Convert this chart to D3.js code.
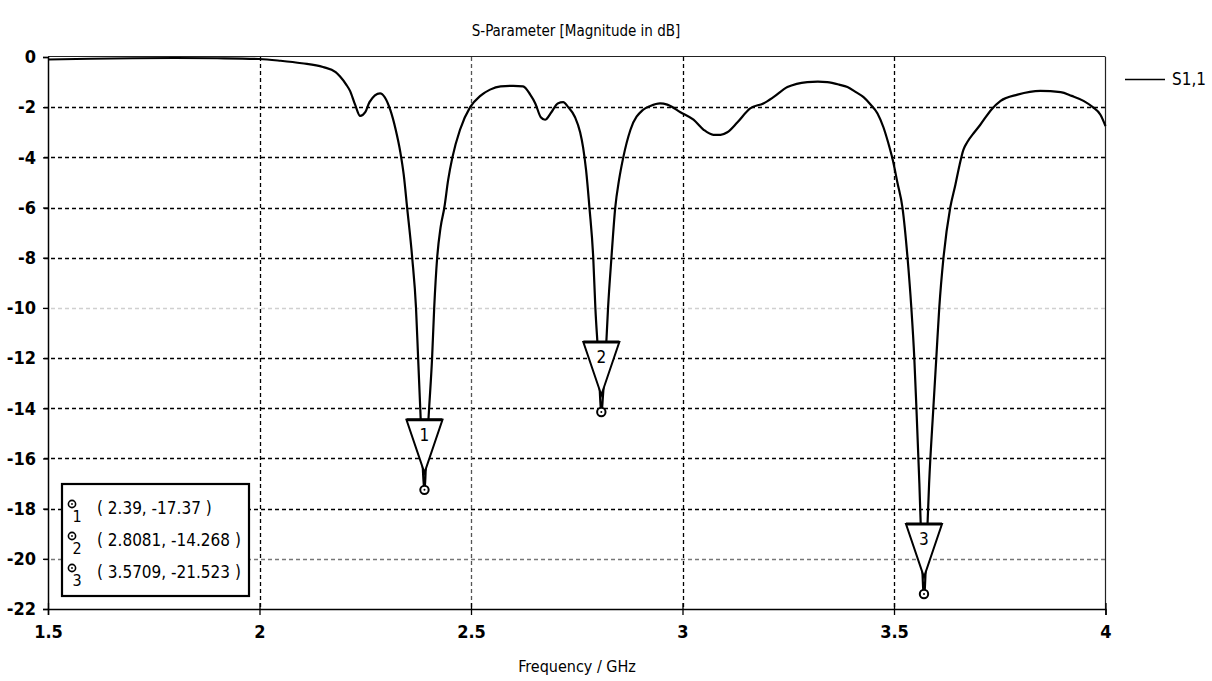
<!DOCTYPE html>
<html>
<head>
<meta charset="utf-8">
<script src="https://cdn.jsdelivr.net/npm/d3@7"></script>
<style>
  html, body { margin: 0; padding: 0; background: #fff; }
  svg { display: block; }
  text { font-family: "DejaVu Sans Condensed", "DejaVu Sans", sans-serif; fill: #000; }
</style>
</head>
<body>
<svg id="chart" width="1212" height="681"></svg>
<script>
// ---------- data ----------
const freq = [1.5, 1.6, 1.7, 1.8, 1.9, 2.0, 2.05, 2.1, 2.15, 2.18, 2.19, 2.205, 2.214, 2.226, 2.238, 2.25, 2.26, 2.285, 2.309, 2.322, 2.333, 2.341, 2.349, 2.361, 2.370, 2.375, 2.380, 2.385, 2.39, 2.394, 2.401, 2.408, 2.413, 2.420, 2.428, 2.437, 2.446, 2.456, 2.474, 2.498, 2.522, 2.545, 2.57, 2.6, 2.623, 2.64, 2.652, 2.665, 2.675, 2.69, 2.705, 2.718, 2.73, 2.746, 2.758, 2.765, 2.772, 2.780, 2.789, 2.794, 2.801, 2.805, 2.8081, 2.812, 2.818, 2.824, 2.832, 2.841, 2.850, 2.860, 2.877, 2.907, 2.924, 2.947, 2.964, 2.995, 3.026, 3.05, 3.073, 3.09, 3.106, 3.13, 3.16, 3.191, 3.215, 3.248, 3.27, 3.295, 3.32, 3.342, 3.37, 3.39, 3.41, 3.428, 3.445, 3.461, 3.475, 3.486, 3.497, 3.508, 3.520, 3.532, 3.541, 3.548, 3.553, 3.56, 3.566, 3.5709, 3.576, 3.583, 3.593, 3.600, 3.607, 3.617, 3.633, 3.645, 3.655, 3.664, 3.673, 3.69, 3.704, 3.73, 3.752, 3.792, 3.846, 3.894, 3.92, 3.948, 3.97, 3.988, 4.0];
const s11 = [-0.1, -0.07, -0.05, -0.04, -0.05, -0.08, -0.15, -0.25, -0.4, -0.6, -0.77, -1.1, -1.35, -1.9, -2.35, -2.2, -1.8, -1.45, -2.1, -2.9, -3.8, -4.7, -6, -8, -10, -12, -14, -16, -17.37, -16, -14, -12, -10, -8, -6.8, -6, -4.9, -4.0, -2.9, -2.0, -1.55, -1.3, -1.17, -1.15, -1.17, -1.5, -1.85, -2.4, -2.5, -2.2, -1.85, -1.8, -2.0, -2.4, -3.0, -3.6, -4.5, -6, -8, -10, -12, -13.5, -14.268, -13.5, -12, -10, -8, -6, -4.9, -4.0, -2.9, -2.1, -1.95, -1.85, -1.9, -2.2, -2.5, -2.9, -3.1, -3.1, -3.0, -2.6, -2.05, -1.85, -1.6, -1.2, -1.07, -1.0, -0.98, -1.0, -1.1, -1.2, -1.4, -1.6, -1.9, -2.25, -2.8, -3.4, -4.1, -5.0, -6, -8, -10, -12, -14, -17, -20, -21.523, -20, -17, -14, -12, -10, -8, -6, -5.1, -4.3, -3.7, -3.4, -3.0, -2.7, -2.1, -1.75, -1.5, -1.35, -1.4, -1.55, -1.75, -2.0, -2.3, -2.75];

const markerIds = ["1", "2", "3"];
const markerFreq = [2.39, 2.8081, 3.5709];
const markerVal = [-17.37, -14.268, -21.523];
const markerText = ["( 2.39, -17.37 )", "( 2.8081, -14.268 )", "( 3.5709, -21.523 )"];

const xTicks = [1.5, 2, 2.5, 3, 3.5, 4];
const xTickLabels = ["1.5", "2", "2.5", "3", "3.5", "4"];
const yTicks = [0, -2, -4, -6, -8, -10, -12, -14, -16, -18, -20, -22];
const yTickLabels = ["0", "-2", "-4", "-6", "-8", "-10", "-12", "-14", "-16", "-18", "-20", "-22"];

const titleText = "S-Parameter [Magnitude in dB]";
const xAxisTitle = "Frequency / GHz";
const seriesName = "S1,1";

// ---------- layout ----------
const L = 48, R = 1105.5, T = 57, B = 609;
const svg = d3.select("#chart");
const x = d3.scaleLinear().domain([1.5, 4]).range([L, R]);
const y = d3.scaleLinear().domain([0, -22]).range([T, B]);

// grid
const gridColorY = v => (v === -10 ? "#d0d0d0" : v === -20 ? "#777" : "#000");
const gridColorX = v => (v === 2.5 ? "#555" : "#000");
svg.append("g").selectAll("line").data(yTicks.filter(v => v !== 0 && v !== -22)).join("line")
  .attr("x1", L - 4).attr("x2", R).attr("y1", d => Math.round(y(d)) + 0.5).attr("y2", d => Math.round(y(d)) + 0.5)
  .attr("stroke", gridColorY).attr("stroke-width", 1.3).attr("stroke-dasharray", "4,3");
svg.append("g").selectAll("line").data(xTicks.filter(v => v !== 1.5 && v !== 4)).join("line")
  .attr("y1", T).attr("y2", B).attr("x1", d => Math.round(x(d)) + 0.5).attr("x2", d => Math.round(x(d)) + 0.5)
  .attr("stroke", gridColorX).attr("stroke-width", 1.3).attr("stroke-dasharray", "4,3");

// frame
svg.append("line").attr("x1", L).attr("x2", R).attr("y1", T - 0.5).attr("y2", T - 0.5).attr("stroke", "#222").attr("stroke-width", 1.2);
svg.append("line").attr("x1", R).attr("x2", R).attr("y1", T).attr("y2", B).attr("stroke", "#222").attr("stroke-width", 1.2);

// axes
const yAxis = d3.axisLeft(y).tickValues(yTicks).tickFormat((d, i) => yTickLabels[i]).tickSize(5).tickPadding(7);
const gy = svg.append("g").attr("transform", `translate(${L},0)`).call(yAxis);
gy.select(".domain").attr("stroke", "#000").attr("stroke-width", 1.5);
gy.selectAll(".tick line").attr("stroke", "#000").attr("stroke-width", 1.3);
gy.selectAll(".tick text").style("font-family", "'DejaVu Sans Condensed', sans-serif").style("font-size", "18px").attr("fill", "#000")
  .style("font-weight", "bold");

const xAxis = d3.axisBottom(x).tickValues(xTicks).tickFormat((d, i) => xTickLabels[i]).tickSize(6).tickPadding(10);
const gx = svg.append("g").attr("transform", `translate(0,${B})`).call(xAxis);
gx.select(".domain").attr("stroke", "#000").attr("stroke-width", 1.5);
gx.selectAll(".tick line").attr("stroke", "#000").attr("stroke-width", 1.3).attr("y1", -6);
gx.selectAll(".tick text").style("font-family", "'DejaVu Sans Condensed', sans-serif").style("font-size", "18px").attr("fill", "#000")
  .style("font-weight", "bold");

// curve
const line = d3.line().x((d, i) => x(freq[i])).y((d, i) => y(s11[i])).curve(d3.curveMonotoneX);
svg.append("path").datum(s11).attr("d", line).attr("fill", "none").attr("stroke", "#000").attr("stroke-width", 2.2).attr("stroke-linejoin", "round");

// markers on curve
const mg = svg.append("g");
markerIds.forEach((id, i) => {
  const px = x(markerFreq[i]), py = y(markerVal[i]) - 3;
  mg.append("path")
    .attr("d", `M${px - 18},${py - 70} L${px + 18},${py - 70} L${px},${py - 17} Z`)
    .attr("fill", "#fff").attr("stroke", "#000").attr("stroke-width", 2).attr("stroke-linejoin", "miter");
  mg.append("line").attr("x1", px - 18).attr("x2", px + 18).attr("y1", py - 70).attr("y2", py - 70).attr("stroke", "#000").attr("stroke-width", 3);
  mg.append("text").attr("x", px).attr("y", py - 54).attr("text-anchor", "middle").attr("dominant-baseline", "middle")
    .style("font-size", "17px").text(id);
  mg.append("circle").attr("cx", px).attr("cy", py).attr("r", 4.2).attr("fill", "#fff").attr("stroke", "#000").attr("stroke-width", 2);
  mg.append("circle").attr("cx", px).attr("cy", py).attr("r", 1).attr("fill", "#000");
});

// marker table box
const box = svg.append("g");
box.append("rect").attr("x", 62).attr("y", 484).attr("width", 187).attr("height", 112)
  .attr("fill", "#fff").attr("stroke", "#000").attr("stroke-width", 2.2);
markerIds.forEach((id, i) => {
  const cy = 504 + i * 32;
  box.append("circle").attr("cx", 72).attr("cy", cy).attr("r", 3.6).attr("fill", "none").attr("stroke", "#000").attr("stroke-width", 1.6);
  box.append("circle").attr("cx", 72).attr("cy", cy).attr("r", 0.9).attr("fill", "#000");
  box.append("text").attr("x", 77).attr("y", cy + 13).attr("text-anchor", "middle").attr("dominant-baseline", "middle")
    .style("font-size", "16px").text(id);
  box.append("text").attr("x", 97).attr("y", cy + 5).attr("dominant-baseline", "middle")
    .style("font-size", "17px").text(markerText[i]);
});

// title and axis title
svg.append("text").attr("x", 576).attr("y", 31).attr("text-anchor", "middle").attr("dominant-baseline", "middle")
  .style("font-size", "15px").text(titleText);
svg.append("text").attr("x", 577).attr("y", 667).attr("text-anchor", "middle").attr("dominant-baseline", "middle")
  .style("font-size", "16px").text(xAxisTitle);

// legend
svg.append("line").attr("x1", 1125).attr("x2", 1165).attr("y1", 79.5).attr("y2", 79.5).attr("stroke", "#000").attr("stroke-width", 1.5);
svg.append("text").attr("x", 1172).attr("y", 80).attr("dominant-baseline", "middle").style("font-size", "17px").text(seriesName);
</script>
</body>
</html>
